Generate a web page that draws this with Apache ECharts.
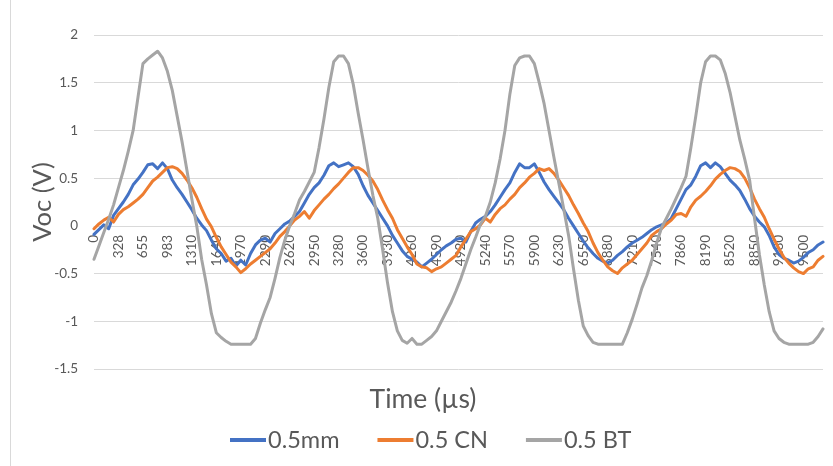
<!DOCTYPE html>
<html>
<head>
<meta charset="utf-8">
<script src="https://cdn.jsdelivr.net/npm/echarts@6/dist/echarts.min.js"></script>
<style>
html,body{margin:0;padding:0;background:#fff;}
#chart{width:833px;height:466px;}
</style>
</head>
<body>
<div id="chart"></div>
<script>
// tick labels shown on the time axis (every 5th sample)
var tickLabels = ["0","328","655","983","1310","1640","1970","2290","2620","2950","3280","3600","3930","4260","4590","4920","5240","5570","5900","6230","6550","6880","7210","7540","7860","8190","8520","8850","9180","9500"];
var samplesPerTick = 5;
var seriesNames = ["0.5mm", "0.5 CN", "0.5 BT"];

var s05mm = [-0.09,-0.04,0.01,-0.03,0.11,0.18,0.25,0.33,0.43,0.49,
0.56,0.64,0.65,0.60,0.66,0.60,0.48,0.40,0.33,0.25,
0.17,0.08,0.01,-0.05,-0.15,-0.24,-0.29,-0.37,-0.34,-0.42,
-0.36,-0.41,-0.29,-0.20,-0.15,-0.13,-0.17,-0.08,-0.03,0.02,
0.05,0.10,0.15,0.24,0.33,0.40,0.45,0.53,0.63,0.66,
0.62,0.64,0.66,0.62,0.54,0.42,0.32,0.24,0.16,0.08,
0.00,-0.10,-0.18,-0.26,-0.32,-0.35,-0.38,-0.43,-0.39,-0.35,
-0.30,-0.25,-0.21,-0.18,-0.14,-0.13,-0.17,-0.06,0.03,0.07,
0.10,0.15,0.22,0.30,0.38,0.45,0.56,0.65,0.61,0.61,
0.65,0.56,0.46,0.38,0.31,0.24,0.17,0.08,0.00,-0.08,
-0.16,-0.23,-0.29,-0.34,-0.37,-0.39,-0.36,-0.31,-0.27,-0.22,
-0.18,-0.15,-0.12,-0.08,-0.04,-0.01,0.01,0.03,0.08,0.18,
0.28,0.38,0.43,0.52,0.63,0.66,0.61,0.66,0.62,0.55,
0.48,0.43,0.37,0.28,0.18,0.10,0.04,-0.01,-0.10,-0.22,
-0.30,-0.34,-0.36,-0.39,-0.37,-0.33,-0.28,-0.25,-0.20,-0.17];

var s05CN = [-0.03,0.02,0.06,0.09,0.04,0.12,0.17,0.20,0.24,0.28,
0.33,0.40,0.47,0.51,0.56,0.61,0.62,0.60,0.55,0.48,
0.40,0.30,0.18,0.07,-0.01,-0.12,-0.22,-0.30,-0.38,-0.43,
-0.49,-0.45,-0.40,-0.36,-0.32,-0.28,-0.24,-0.18,-0.11,-0.06,
0.00,0.06,0.10,0.15,0.08,0.16,0.22,0.28,0.33,0.39,
0.44,0.50,0.56,0.61,0.61,0.58,0.53,0.47,0.38,0.27,
0.17,0.08,-0.04,-0.13,-0.22,-0.30,-0.40,-0.43,-0.44,-0.48,
-0.45,-0.43,-0.39,-0.35,-0.31,-0.22,-0.14,-0.06,-0.03,0.01,
0.08,0.04,0.12,0.18,0.22,0.28,0.33,0.40,0.45,0.51,
0.55,0.60,0.58,0.60,0.55,0.48,0.40,0.32,0.22,0.13,
0.03,-0.06,-0.18,-0.28,-0.36,-0.43,-0.47,-0.50,-0.44,-0.40,
-0.36,-0.30,-0.24,-0.18,-0.10,-0.06,-0.03,0.02,0.06,0.12,
0.13,0.10,0.20,0.27,0.31,0.36,0.42,0.49,0.54,0.58,
0.61,0.60,0.57,0.50,0.40,0.28,0.18,0.09,-0.03,-0.14,
-0.24,-0.33,-0.39,-0.44,-0.48,-0.50,-0.45,-0.43,-0.36,-0.32];

var s05BT = [-0.35,-0.21,-0.07,0.07,0.22,0.40,0.58,0.78,1.00,1.35,
1.70,1.75,1.79,1.83,1.76,1.62,1.42,1.15,0.88,0.58,
0.28,0.00,-0.35,-0.62,-0.92,-1.12,-1.17,-1.21,-1.24,-1.24,
-1.24,-1.24,-1.24,-1.18,-1.02,-0.88,-0.75,-0.55,-0.33,-0.15,
0.00,0.13,0.27,0.36,0.46,0.56,0.82,1.12,1.45,1.72,
1.78,1.78,1.70,1.48,1.18,0.90,0.60,0.32,0.08,-0.25,
-0.60,-0.90,-1.10,-1.20,-1.23,-1.18,-1.24,-1.24,-1.20,-1.16,
-1.10,-1.00,-0.90,-0.80,-0.68,-0.55,-0.40,-0.25,-0.12,0.02,
0.10,0.25,0.45,0.70,1.00,1.38,1.68,1.76,1.78,1.78,
1.70,1.50,1.28,1.00,0.72,0.45,0.18,-0.10,-0.45,-0.78,
-1.05,-1.15,-1.22,-1.24,-1.24,-1.24,-1.24,-1.24,-1.24,-1.12,
-0.98,-0.82,-0.65,-0.52,-0.36,-0.18,-0.02,0.08,0.18,0.29,
0.40,0.52,0.82,1.15,1.50,1.72,1.78,1.78,1.74,1.60,
1.40,1.15,0.90,0.70,0.48,0.08,-0.30,-0.62,-0.90,-1.10,
-1.18,-1.22,-1.24,-1.24,-1.24,-1.24,-1.24,-1.22,-1.16,-1.08];

var colors = ["#4472C4", "#ED7D31", "#A5A5A5"];
var FONT = "Lato";
var yMin = -1.5, yMax = 2;
var gridTop = 35, gridBottom = 97, chartH = 466;

var categories = [];
for (var i = 0; i < s05mm.length; i++) {
  categories.push(i % samplesPerTick === 0 ? tickLabels[i / samplesPerTick] : "s" + i);
}

// place the category axis on the value axis' zero line
var plotH = chartH - gridTop - gridBottom;
var zeroOffset = -plotH * (0 - yMin) / (yMax - yMin);

var chart = echarts.init(document.getElementById("chart"), null, {renderer: "canvas"});
var seriesData = [s05mm, s05CN, s05BT];
var series = seriesData.map(function (d, k) {
  return {
    name: seriesNames[k],
    type: "line",
    data: d,
    symbol: "none",
    showSymbol: false,
    smooth: false,
    lineStyle: {color: colors[k], width: 3, join: "round", cap: "round"},
    itemStyle: {color: colors[k]},
    animation: false
  };
});

chart.setOption({
  animation: false,
  backgroundColor: "#ffffff",
  textStyle: {fontFamily: FONT},
  grid: {left: 94, right: 10, top: gridTop, bottom: gridBottom, containLabel: false},
  xAxis: {
    type: "category",
    data: categories,
    boundaryGap: false,
    position: "bottom",
    offset: zeroOffset,
    axisLine: {show: true, onZero: false, lineStyle: {color: "#D9D9D9", width: 1}},
    axisTick: {show: false},
    splitLine: {show: false},
    axisLabel: {
      interval: samplesPerTick - 1,
      rotate: 90,
      margin: 9,
      color: "#595959",
      fontSize: 13.5,
      fontFamily: FONT
    }
  },
  yAxis: {
    type: "value",
    min: yMin,
    max: yMax,
    interval: 0.5,
    axisLine: {show: false},
    axisTick: {show: false},
    splitLine: {show: true, lineStyle: {color: "#D9D9D9", width: 1}},
    axisLabel: {color: "#595959", fontSize: 13.5, fontFamily: FONT, margin: 16},
    name: "Voc (V)",
    nameLocation: "middle",
    nameRotate: 90,
    nameGap: 38,
    nameMoveOverlap: false,
    nameTextStyle: {color: "#595959", fontSize: 25.5, fontFamily: FONT}
  },
  legend: {
    data: seriesNames,
    bottom: 9,
    left: 225,
    icon: "rect",
    itemWidth: 36,
    itemHeight: 4,
    itemGap: 38,
    textStyle: {color: "#595959", fontSize: 23.5, fontFamily: FONT, padding: [0, 0, 0, -3]}
  },
  graphic: [
    {type: "text", x: 423, y: 399, style: {text: "Time (µs)", fill: "#595959", font: "26.5px Lato", textAlign: "center", textVerticalAlign: "middle"}},
    {type: "line", shape: {x1: 10.5, y1: 0, x2: 10.5, y2: 466}, style: {stroke: "#D9D9D9", lineWidth: 1}}
  ],
  series: series
});
</script>
</body>
</html>
